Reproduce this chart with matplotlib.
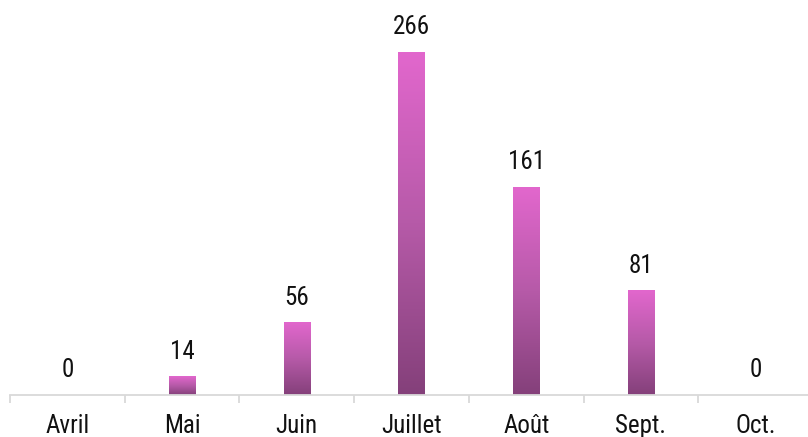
"""
Monthly count bar chart with vertical pink gradient bars.
"""

import numpy as np
import matplotlib
matplotlib.use("Agg")
import matplotlib.pyplot as plt
from matplotlib.colors import LinearSegmentedColormap

months = ["Avril", "Mai", "Juin", "Juillet", "Août", "Sept.", "Oct."]
counts = [0, 14, 56, 266, 161, 81, 0]

plt.rcParams['font.family'] = ['Roboto Condensed', 'Liberation Sans Narrow', 'Roboto', 'DejaVu Sans']

# gradient from dark plum (bottom) to bright pink (top)
grad_cmap = LinearSegmentedColormap.from_list("pinkgrad", ["#84407a", "#b65aa8", "#e267cd"])

W, H = 808, 437
fig = plt.figure(figsize=(W / 100, H / 100), dpi=100)
ax = fig.add_axes([10 / W, 42 / H, 803 / W, 395 / H])

ymax = 395 / (343 / 266)
ax.set_xlim(-0.5, len(months) - 0.5)
ax.set_ylim(0, ymax)

bar_w = 0.23
bars = ax.bar(range(len(months)), counts, width=bar_w, color="none")
gradient = np.linspace(0, 1, 256).reshape(-1, 1)
for rect, v in zip(bars, counts):
    if v <= 0:
        continue
    x0 = rect.get_x()
    ax.imshow(gradient, cmap=grad_cmap, origin="lower", aspect="auto",
              extent=[x0, x0 + rect.get_width(), 0, v], zorder=2)

ax.set_xlim(-0.5, len(months) - 0.5)
ax.set_ylim(0, ymax)

# value labels
for i, v in enumerate(counts):
    ax.annotate(str(v), (i, v), xytext=(0, 25), textcoords="offset pixels",
                ha="center", va="center", fontsize=18, color="#111111")

for s in ["top", "right", "left"]:
    ax.spines[s].set_visible(False)
ax.spines["bottom"].set_color("#d9d9d9")
ax.spines["bottom"].set_linewidth(1.3)
ax.set_yticks([])

ax.set_xticks(np.arange(len(months)) - 0.5, minor=False)
ax.set_xticklabels([])
ax.tick_params(axis="x", which="major", length=6, width=1.3, color="#d9d9d9", direction="out")
ax.set_xticks(range(len(months)), minor=True)
ax.set_xticklabels(months, minor=True, fontsize=18, color="#111111")
ax.tick_params(axis="x", which="minor", length=0, pad=14)

fig.savefig("out.png", dpi=100)
